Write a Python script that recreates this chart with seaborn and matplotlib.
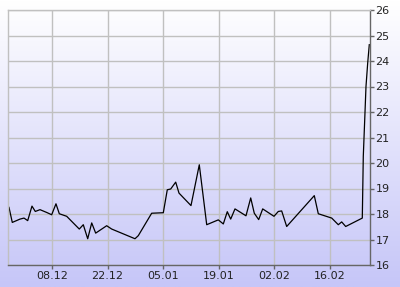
import numpy as np
import pandas as pd
import matplotlib
matplotlib.use("Agg")
import matplotlib.pyplot as plt
import seaborn as sns
from matplotlib.colors import LinearSegmentedColormap

# day offsets relative to 08.12
day = [-10.83, -10.0, -8.06, -7.05, -6.12, -5.04, -4.21, -3.02, -1.33, -0.08,
       1.0, 1.84, 3.70, 5.79, 6.87, 7.88, 8.99, 10.0, 11.0, 13.77,
       15.03, 20.9, 21.73, 25.1, 28.03, 29.03, 29.89, 31.15, 31.98, 35.0,
       37.09, 38.96, 41.88, 43.14, 44.14, 45.0, 46.08, 48.85, 50.04, 50.94,
       52.05, 53.06, 55.9, 56.99, 57.84, 59.1, 66.05, 67.06, 70.44, 72.1,
       72.95, 73.96, 78.14, 78.39, 78.75, 79.07, 79.5, 79.9]
price = [18.26, 17.67, 17.80, 17.84, 17.74, 18.31, 18.10, 18.17, 18.06, 17.97,
         18.40, 18.01, 17.91, 17.58, 17.41, 17.58, 17.03, 17.65, 17.25, 17.54,
         17.41, 17.03, 17.15, 18.03, 18.05, 18.95, 18.98, 19.25, 18.82, 18.33,
         19.93, 17.58, 17.77, 17.61, 18.09, 17.80, 18.20, 17.93, 18.63, 18.03,
         17.78, 18.20, 17.91, 18.10, 18.12, 17.51, 18.72, 18.01, 17.84, 17.58,
         17.69, 17.51, 17.84, 20.26, 21.70, 23.00, 23.92, 24.64]
tick_days = [0, 14, 28, 42, 56, 70]
tick_labels = ["08.12", "22.12", "05.01", "19.01", "02.02", "16.02"]
y_ticks = list(range(16, 27))

df = pd.DataFrame({"day": day, "price": price})

fig = plt.figure(figsize=(4.0, 2.87), dpi=100)

# gradient background over whole figure
bg = fig.add_axes([0, 0, 1, 1], zorder=-10)
cmap = LinearSegmentedColormap.from_list("g", ["#ffffff", "#c6c6f8"])
bg.imshow(np.linspace(0, 1, 256).reshape(-1, 1), aspect="auto", cmap=cmap,
          extent=[0, 1, 0, 1], origin="upper")
bg.axis("off")

ax = fig.add_axes([8/400, 22/287, (370-8)/400, (265-10)/287])
ax.set_facecolor("none")
sns.lineplot(data=df, x="day", y="price", ax=ax, color="black", linewidth=0.9,
             sort=False, estimator=None)

ax.set_xlim(-11.08, 80.08)
ax.set_ylim(16, 26)
ax.set_xticks(tick_days)
ax.set_xticklabels(tick_labels)
ax.set_yticks(y_ticks)
ax.yaxis.tick_right()
ax.set_xlabel("")
ax.set_ylabel("")
ax.grid(True, color="#c0c0c0", linewidth=1.0)
ax.set_axisbelow(True)
for s in ["left", "top"]:
    ax.spines[s].set_color("#c0c0c0")
    ax.spines[s].set_linewidth(1.0)
for s in ["right", "bottom"]:
    ax.spines[s].set_color("#666666")
    ax.spines[s].set_linewidth(1.0)
ax.tick_params(axis="both", colors="#666666", labelcolor="#222222",
               labelsize=8, length=3, width=1, pad=1)

fig.savefig("out.png", dpi=100)
